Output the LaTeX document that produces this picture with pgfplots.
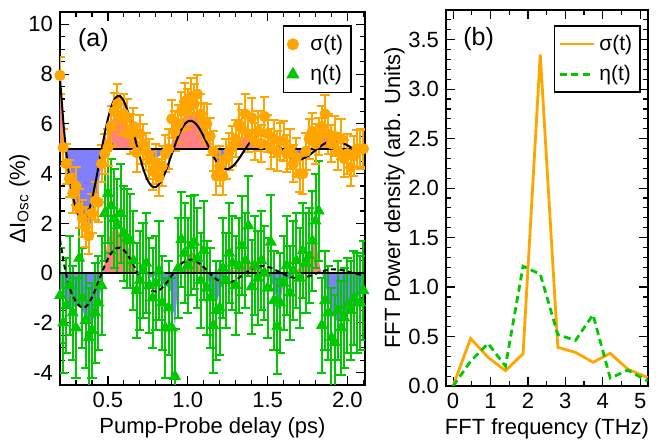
\documentclass[border=0pt]{standalone}
\usepackage{fontspec}
\setmainfont{Liberation Sans}
\usepackage{pgfplots}
\usepackage{pgfplotstable}
\pgfplotsset{compat=1.18}
\usepgfplotslibrary{fillbetween}
\definecolor{sorange}{RGB}{255,165,0}
\definecolor{egreen}{RGB}{0,200,0}
\definecolor{fpink}{RGB}{255,128,128}
\definecolor{fblue}{RGB}{128,128,255}

\pgfplotstableread{
t y e
0.20 7.95 0.75
0.22 5.05 0.75
0.24 4.4 0.8
0.26 3.8 0.75
0.28 3.2 0.8
0.30 3.5 0.75
0.32 2.6 0.8
0.34 2.2 0.75
0.36 1.85 0.8
0.38 1.5 0.75
0.40 2.4 0.8
0.42 2.9 0.75
0.44 2.85 0.8
0.46 4.4 0.75
0.48 4.8 0.8
0.50 5.05 0.75
0.52 5.9 0.8
0.54 6.5 0.75
0.56 6.8 0.8
0.58 6.3 0.75
0.60 6.4 0.8
0.62 6.25 0.75
0.64 5.6 0.8
0.66 5.9 0.75
0.68 4.85 0.8
0.70 5.6 0.75
0.72 5.2 0.8
0.74 4.9 0.75
0.76 4.6 0.8
0.78 4.1 0.75
0.80 4.4 0.8
0.82 3.85 0.75
0.84 4.3 0.8
0.86 4.8 0.75
0.88 5.0 0.8
0.90 6.2 0.75
0.92 5.7 0.8
0.94 6.0 0.75
0.96 6.5 0.8
0.98 6.9 0.75
1.00 6.6 0.8
1.02 7.1 0.75
1.04 6.8 0.8
1.06 7.2 0.75
1.08 6.4 0.8
1.10 6.1 0.75
1.12 6.0 0.8
1.14 5.5 0.75
1.16 4.9 0.8
1.18 3.9 0.75
1.20 4.3 0.8
1.22 3.9 0.75
1.24 4.6 0.8
1.26 4.9 0.75
1.28 5.1 0.8
1.30 5.4 0.75
1.32 6.0 0.8
1.34 5.8 0.75
1.36 6.4 0.8
1.38 5.6 0.75
1.40 6.25 0.8
1.42 5.3 0.75
1.44 5.7 0.8
1.46 5.2 0.75
1.48 6.3 0.8
1.50 5.6 0.75
1.52 5.0 0.8
1.54 5.4 0.75
1.56 4.9 0.8
1.58 5.3 0.75
1.60 5.3 0.8
1.62 4.8 0.75
1.64 5.0 0.8
1.66 4.4 0.75
1.68 4.65 0.8
1.70 4.0 0.75
1.72 4.0 0.8
1.74 4.9 0.75
1.76 5.4 0.8
1.78 5.7 0.75
1.80 5.2 0.8
1.82 5.5 0.75
1.84 5.9 0.8
1.86 6.4 0.75
1.88 5.6 0.8
1.90 5.2 0.75
1.92 5.5 0.8
1.94 4.9 0.75
1.96 5.4 0.8
1.98 4.6 0.75
2.00 4.8 0.8
2.02 4.25 0.75
2.04 4.7 0.8
2.06 5.0 0.75
2.08 5.0 0.8
2.10 5.0 0.75
}\sigmadata

\pgfplotstableread{
t y e
0.20 -0.9 1.9
0.22 -2.0 2.0
0.24 -1.3 1.9
0.26 -0.5 2.0
0.28 -1.6 1.9
0.30 -2.2 2.0
0.32 0.6 1.9
0.34 -1.0 2.0
0.36 -1.9 1.9
0.38 -2.6 2.0
0.40 -2.3 1.9
0.42 -1.6 2.0
0.44 -1.2 1.9
0.46 -0.5 2.0
0.48 2.4 1.9
0.50 3.2 2.0
0.52 2.7 1.9
0.54 2.2 2.0
0.56 1.9 1.9
0.58 2.4 2.0
0.60 1.6 1.9
0.62 1.4 2.0
0.64 1.3 1.9
0.66 0.5 2.0
0.68 -0.7 1.9
0.70 -0.3 2.0
0.72 0.1 1.9
0.74 0.4 2.0
0.76 -0.5 1.9
0.78 -1.0 2.0
0.80 -0.4 1.9
0.82 0.1 2.0
0.84 -1.2 1.9
0.86 -2.2 2.0
0.88 -1.4 1.9
0.90 -2.2 2.0
0.92 -4.15 1.9
0.94 0.2 2.0
0.96 1.35 1.9
0.98 0.8 2.0
1.00 0.3 1.9
1.02 1.1 2.0
1.04 1.25 1.9
1.06 0.6 2.0
1.08 -0.3 1.9
1.10 0.9 2.0
1.12 -0.6 1.9
1.14 -1.0 2.0
1.16 -2.1 1.9
1.18 -1.5 2.0
1.20 -1.4 1.9
1.22 0.2 2.0
1.24 -0.3 1.9
1.26 0.8 2.0
1.28 0.4 1.9
1.30 -0.5 2.0
1.32 0.3 1.9
1.34 1.1 2.0
1.36 0.5 1.9
1.38 1.9 2.0
1.40 -0.55 1.9
1.42 0.3 2.0
1.44 -0.2 1.9
1.46 0.5 2.0
1.48 0.0 1.9
1.50 -0.6 2.0
1.52 1.25 1.9
1.54 -1.1 2.0
1.56 -2.15 1.9
1.58 -1.2 2.0
1.60 -0.4 1.9
1.62 0.3 2.0
1.64 -0.8 1.9
1.66 0.1 2.0
1.68 0.5 1.9
1.70 -0.2 2.0
1.72 0.9 1.9
1.74 0.4 2.0
1.76 0.7 1.9
1.78 1.3 2.0
1.80 2.1 1.9
1.82 2.5 2.0
1.84 -2.1 1.9
1.86 -1.1 2.0
1.88 -1.6 1.9
1.90 -2.6 2.0
1.92 -2.8 1.9
1.94 -1.5 2.0
1.96 -2.2 1.9
1.98 -1.8 2.0
2.00 -1.3 1.9
2.02 -1.5 2.0
2.04 -1.0 1.9
2.06 -1.2 2.0
2.08 -1.2 1.9
2.10 -0.7 2.0
}\etadata

% fill outlines (smoothed data), split at the baseline: pos = part above, neg = part below
\pgfplotstableread{
t pos neg
0.20 7.95 5
0.22 5.6 5
0.232 5 5
0.24 5 4.6
0.26 5 3.9
0.28 5 3.4
0.30 5 3.0
0.32 5 2.6
0.34 5 2.2
0.36 5 1.8
0.38 5 1.7
0.40 5 2.2
0.42 5 2.8
0.44 5 3.5
0.46 5 4.4
0.471 5 5
0.48 5.1 5
0.50 5.6 5
0.52 6.0 5
0.54 6.4 5
0.56 6.5 5
0.58 6.4 5
0.60 6.2 5
0.62 6.0 5
0.64 5.8 5
0.66 5.6 5
0.68 5.4 5
0.70 5.2 5
0.72 5 5
0.76 5 4.9
0.80 5 4.6
0.84 5 4.8
0.88 5 4.95
0.89 5 5
0.92 5.8 5
0.96 6.2 5
1.00 6.4 5
1.04 6.5 5
1.08 6.3 5
1.12 5.8 5
1.14 5 5
1.16 5 4.8
1.20 5 4.4
1.24 5 4.6
1.28 5 5
1.32 5.4 5
1.36 5.5 5
1.40 5.5 5
1.44 5.4 5
1.48 5.4 5
1.52 5.2 5
1.56 5 5
1.60 5 5
1.64 5 4.9
1.68 5 4.6
1.72 5 4.5
1.76 5 4.9
1.78 5 5
1.80 5.2 5
1.84 5.4 5
1.88 5.5 5
1.92 5.2 5
1.96 5 5
2.00 5 4.8
2.04 5 4.8
2.08 5 5
2.10 5 5
}\sigmafill

\pgfplotstableread{
t pos neg
0.20 0 -0.5
0.24 0 -1.2
0.28 0 -1.4
0.32 0 -1.2
0.36 0 -1.8
0.40 0 -2.0
0.44 0 -1.4
0.47 0 0
0.50 1.4 0
0.54 1.8 0
0.58 1.6 0
0.62 1.2 0
0.66 0.4 0
0.68 0 0
0.72 0.2 0
0.74 0 0
0.76 0 -0.2
0.80 0 -0.1
0.84 0 -0.4
0.88 0 -0.6
0.90 0 -0.8
0.92 0 -2.2
0.94 0 -0.2
0.95 0 0
0.98 0.4 0
1.02 0.9 0
1.06 0.6 0
1.10 0.2 0
1.12 0 0
1.14 0 -0.8
1.18 0 -1.2
1.22 0 -0.4
1.24 0 0
1.26 0.2 0
1.30 0.1 0
1.34 0.4 0
1.38 0.6 0
1.42 0.2 0
1.46 0.2 0
1.50 0 0
1.54 0 -0.6
1.57 0 -1.5
1.60 0 -0.4
1.64 0 -0.2
1.66 0 0
1.68 0.1 0
1.72 0.4 0
1.76 0.7 0
1.80 1.4 0
1.83 0.2 0
1.84 0 0
1.86 0 -0.4
1.90 0 -1.6
1.94 0 -2.0
1.98 0 -1.8
2.02 0 -1.4
2.06 0 -1.1
2.10 0 -0.5
}\etafill

\pgfplotstableread{
t s g
0.200 7.80 1.34
0.2125 6.80 0.86
0.225 5.77 0.37
0.250 4.25 -0.36
0.275 3.26 -0.84
0.300 2.60 -1.15
0.325 2.21 -1.34
0.350 2.09 -1.40
0.375 2.38 -1.26
0.400 2.95 -0.98
0.425 3.73 -0.61
0.450 4.60 -0.19
0.475 5.45 0.22
0.500 6.20 0.58
0.525 6.76 0.84
0.550 7.07 0.99
0.575 7.12 1.02
0.600 6.91 0.92
0.625 6.49 0.72
0.650 5.93 0.45
0.675 5.29 0.14
0.700 4.67 -0.16
0.725 4.12 -0.42
0.750 3.72 -0.61
0.775 3.49 -0.72
0.800 3.46 -0.74
0.825 3.61 -0.67
0.850 3.91 -0.52
0.875 4.32 -0.33
0.900 4.79 -0.10
0.925 5.24 0.12
0.950 5.64 0.31
0.975 5.94 0.45
1.000 6.10 0.53
1.025 6.12 0.54
1.050 6.01 0.48
1.075 5.79 0.38
1.100 5.49 0.24
1.125 5.16 0.08
1.150 4.82 -0.09
1.175 4.53 -0.23
1.200 4.32 -0.33
1.225 4.20 -0.38
1.250 4.18 -0.39
1.275 4.26 -0.36
1.300 4.42 -0.28
1.325 4.64 -0.17
1.350 4.89 -0.05
1.375 5.13 0.06
1.400 5.34 0.16
1.425 5.50 0.24
1.450 5.58 0.28
1.475 5.60 0.29
1.500 5.54 0.26
1.525 5.42 0.20
1.550 5.26 0.12
1.575 5.08 0.04
1.600 4.91 -0.04
1.625 4.75 -0.12
1.650 4.64 -0.17
1.675 4.58 -0.20
1.700 4.57 -0.21
1.725 4.61 -0.19
1.750 4.70 -0.14
1.775 4.81 -0.09
1.800 4.94 -0.03
1.825 5.07 0.03
1.850 5.18 0.09
1.875 5.26 0.12
1.900 5.31 0.15
1.925 5.31 0.15
1.950 5.28 0.13
1.975 5.22 0.11
2.000 5.14 0.07
2.025 5.04 0.02
2.050 4.95 -0.02
2.075 4.87 -0.06
2.100 4.81 -0.09
}\fitdata

\pgfplotsset{
  common/.style={
    scale only axis,
    axis line style={line width=0.8pt},
    every tick/.style={line width=0.6pt, black},
    major tick length=4.5pt,
    minor tick length=2.5pt,
    tick label style={font=\fontsize{11}{13}\selectfont},
    label style={font=\fontsize{11}{13}\selectfont},
    /pgf/number format/assume math mode=true,
    legend style={draw=black, line width=0.8pt, font=\fontsize{10.5}{12}\selectfont,
      inner xsep=2pt, inner ysep=2.5pt, row sep=2pt},
    legend cell align=left,
  }
}

\begin{document}
\begin{tikzpicture}[font=\fontsize{11}{13}\selectfont]
\path (0,0) rectangle (329.5pt,219.5pt);
\begin{axis}[common,
  at={(30pt,27pt)}, anchor=south west,
  width=152.5pt, height=186.5pt,
  xmin=0.2, xmax=2.11, ymin=-4.5, ymax=10.5,
  xtick={0.5,1.0,1.5,2.0},
  minor xtick={0.2,0.3,0.4,0.6,0.7,0.8,0.9,1.1,1.2,1.3,1.4,1.6,1.7,1.8,1.9,2.1},
  ytick={-4,-2,0,2,4,6,8,10},
  minor ytick={-4.5,-3.5,-3,-2.5,-1.5,-1,-0.5,0.5,1,1.5,2.5,3,3.5,4.5,5,5.5,6.5,7,7.5,8.5,9,9.5,10.5},
  xticklabel style={/pgf/number format/.cd, fixed, fixed zerofill, precision=1},
  xlabel={Pump-Probe delay (ps)},
  ylabel={ΔI\textsubscript{Osc} (\%)},
  xlabel style={yshift=2pt},
  ylabel style={yshift=-7.5pt},
  legend style={at={(0.957,0.964)}, anchor=north east},
]
% fill regions
\addplot[draw=none, name path=spos, forget plot] table[x=t, y=pos] {\sigmafill};
\addplot[draw=none, name path=sneg, forget plot] table[x=t, y=neg] {\sigmafill};
\addplot[draw=none, name path=sbase, forget plot] coordinates {(0.2,5) (2.1,5)};
\addplot[fpink, draw=none, forget plot] fill between[of=spos and sbase];
\addplot[fblue, draw=none, forget plot] fill between[of=sneg and sbase];
\addplot[draw=none, name path=epos, forget plot] table[x=t, y=pos] {\etafill};
\addplot[draw=none, name path=eneg, forget plot] table[x=t, y=neg] {\etafill};
\addplot[draw=none, name path=ebase, forget plot] coordinates {(0.2,0) (2.1,0)};
\addplot[fpink, draw=none, forget plot] fill between[of=epos and ebase];
\addplot[fblue, draw=none, forget plot] fill between[of=eneg and ebase];
% eta data
\addplot[only marks, mark=triangle*, mark size=3.1pt, color=egreen, forget plot,
  error bars/.cd, y dir=both, y explicit,
  error bar style={line width=1pt, egreen},
  error mark options={rotate=90, mark size=2.3pt, line width=1pt, egreen}]
  table[x=t, y=y, y error=e] {\etadata};
% sigma data
\addplot[only marks, mark=*, mark size=2.6pt, color=sorange, forget plot,
  error bars/.cd, y dir=both, y explicit,
  error bar style={line width=1pt, sorange},
  error mark options={rotate=90, mark size=2.3pt, line width=1pt, sorange}]
  table[x=t, y=y, y error=e] {\sigmadata};
% baselines
\addplot[black, line width=0.85pt, forget plot] coordinates {(0.2,5) (2.11,5)};
\addplot[black, line width=0.85pt, forget plot] coordinates {(0.2,0) (2.11,0)};
% fits
\addplot[black, line width=1pt, smooth, forget plot] table[x=t, y=s] {\fitdata};
\addplot[black, line width=1pt, dash pattern=on 2.5pt off 1.7pt, smooth, forget plot] table[x=t, y=g] {\fitdata};
\addlegendimage{only marks, mark=*, mark size=2.6pt, color=sorange}
\addlegendentry{\hspace{4pt}σ(t)}
\addlegendimage{only marks, mark=triangle*, mark size=3.1pt, color=egreen}
\addlegendentry{\hspace{4pt}η(t)}
\node[anchor=north west, inner sep=0pt, font=\fontsize{12.5}{14}\selectfont] at (rel axis cs:0.058,0.957) {(a)};
\end{axis}

\begin{axis}[common,
  at={(223pt,26.5pt)}, anchor=south west,
  width=101pt, height=188pt,
  xmin=-0.19, xmax=5.21, ymin=0, ymax=3.8,
  xtick={0,1,2,3,4,5},
  minor xtick={0.5,1.5,2.5,3.5,4.5},
  ytick={0,0.5,1.0,1.5,2.0,2.5,3.0,3.5},
  minor ytick={0.1,0.2,0.3,0.4,0.6,0.7,0.8,0.9,1.1,1.2,1.3,1.4,1.6,1.7,1.8,1.9,2.1,2.2,2.3,2.4,2.6,2.7,2.8,2.9,3.1,3.2,3.3,3.4,3.6,3.7},
  yticklabel style={/pgf/number format/.cd, fixed, fixed zerofill, precision=1},
  xlabel={FFT frequency (THz)},
  ylabel={FFT Power density (arb. Units)},
  xlabel style={yshift=2pt},
  ylabel style={yshift=-5pt},
  legend style={at={(0.965,0.96)}, anchor=north east},
  legend image post style={line width=1.4pt},
]
\addplot[sorange, line width=1.4pt] coordinates {
(0,0) (0.467,0.48) (0.934,0.29) (1.40,0.155) (1.87,0.325) (2.33,3.35) (2.80,0.39) (3.27,0.34) (3.74,0.24) (4.20,0.33) (4.67,0.17) (5.2,0.085)};
\addlegendentry{σ(t)}
\addplot[egreen, line width=1.4pt, dash pattern=on 3.5pt off 2.2pt] coordinates {
(0,0) (0.467,0.25) (0.934,0.43) (1.40,0.2) (1.87,1.21) (2.33,1.13) (2.80,0.52) (3.27,0.46) (3.74,0.72) (4.20,0.08) (4.67,0.16) (5.2,0.05)};
\addlegendentry{η(t)}
\node[anchor=north west, inner sep=0pt, font=\fontsize{12.5}{14}\selectfont] at (rel axis cs:0.084,0.955) {(b)};
\end{axis}
\end{tikzpicture}
\end{document}
